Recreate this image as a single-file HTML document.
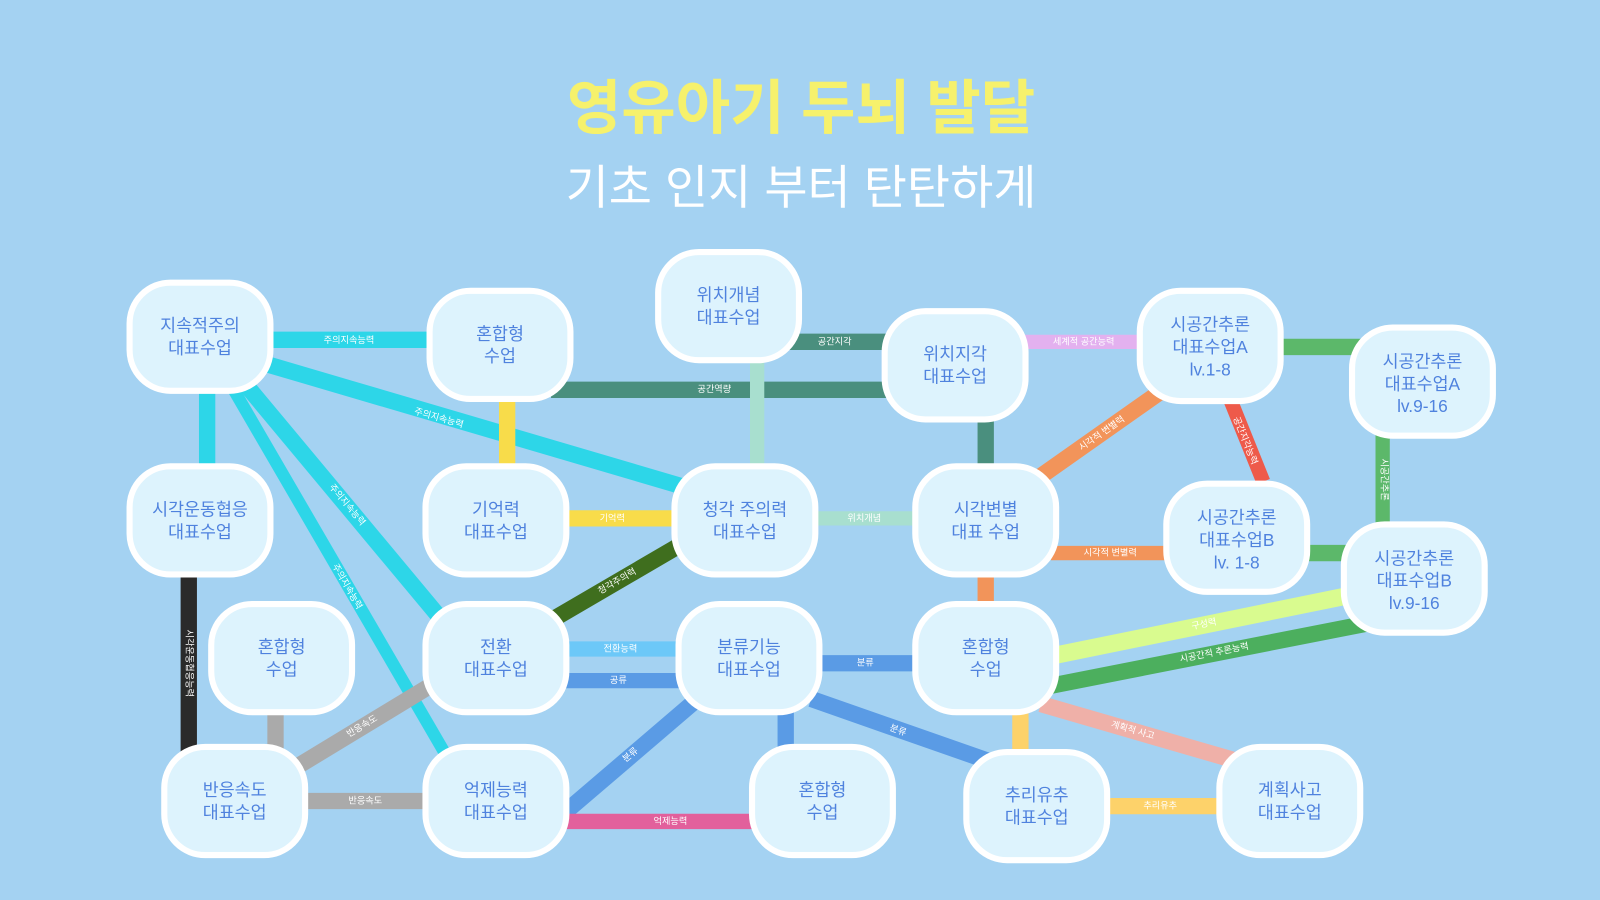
<!DOCTYPE html>
<html><head><meta charset="utf-8"><style>
html,body{margin:0;padding:0;background:#a4d2f2;}
svg{display:block;}
text{font-family:"Liberation Sans","Noto Sans CJK KR",sans-serif;}
.n rect{fill:#ddf3fd;stroke:#fff;stroke-width:6;}
.n text{fill:#4f82de;font-size:17px;text-anchor:middle;}
.l{font-size:9px;fill:#fff;text-anchor:middle;dominant-baseline:middle;}
</style></head><body>
<svg width="1600" height="900" viewBox="0 0 1568 882" preserveAspectRatio="none">
<rect width="1568" height="882" fill="#a4d2f2"/>
<text x="785" y="126" text-anchor="middle" font-size="58" font-weight="bold" fill="#f6f16c">영유아기 두뇌 발달</text>
<text x="785" y="200" text-anchor="middle" font-size="46" fill="#ffffff">기초 인지 부터 탄탄하게</text>
<g stroke-linecap="butt" fill="none">
<line x1="200" y1="333" x2="430" y2="333" stroke="#2dd6e8" stroke-width="16"/>
<line x1="255" y1="355" x2="680" y2="480" stroke="#2dd6e8" stroke-width="16"/>
<line x1="203" y1="370" x2="203" y2="460" stroke="#2dd6e8" stroke-width="16"/>
<line x1="235" y1="370" x2="435" y2="610" stroke="#2dd6e8" stroke-width="16"/>
<line x1="225" y1="375" x2="440" y2="745" stroke="#2dd6e8" stroke-width="12"/>
<line x1="497" y1="380" x2="497" y2="460" stroke="#f8dc4a" stroke-width="16"/>
<line x1="770" y1="335" x2="880" y2="335" stroke="#4a8f7e" stroke-width="16"/>
<line x1="540" y1="382" x2="880" y2="382" stroke="#4a8f7e" stroke-width="16"/>
<line x1="742" y1="350" x2="742" y2="460" stroke="#a8dfcf" stroke-width="14"/>
<line x1="1000" y1="335" x2="1120" y2="335" stroke="#e3b1ef" stroke-width="14"/>
<line x1="966" y1="400" x2="966" y2="465" stroke="#4a8f7e" stroke-width="16"/>
<line x1="1250" y1="340" x2="1335" y2="340" stroke="#5cb86a" stroke-width="16"/>
<line x1="1140" y1="382" x2="1018" y2="468" stroke="#f2945a" stroke-width="16"/>
<line x1="1205" y1="390" x2="1238" y2="472" stroke="#ee5a4a" stroke-width="14"/>
<line x1="1355" y1="420" x2="1355" y2="520" stroke="#5cb86a" stroke-width="14"/>
<line x1="550" y1="508" x2="670" y2="508" stroke="#f8dc4a" stroke-width="16"/>
<line x1="790" y1="508" x2="900" y2="508" stroke="#a8dfcf" stroke-width="14"/>
<line x1="1030" y1="542" x2="1150" y2="542" stroke="#f2945a" stroke-width="14"/>
<line x1="1275" y1="542" x2="1325" y2="542" stroke="#5cb86a" stroke-width="16"/>
<line x1="966" y1="555" x2="966" y2="600" stroke="#f2945a" stroke-width="16"/>
<line x1="665" y1="535" x2="540" y2="608" stroke="#3f6e1e" stroke-width="16"/>
<line x1="185" y1="560" x2="185" y2="740" stroke="#2a2a2a" stroke-width="16"/>
<line x1="270" y1="690" x2="270" y2="740" stroke="#aaaaaa" stroke-width="16"/>
<line x1="425" y1="670" x2="285" y2="755" stroke="#aaaaaa" stroke-width="16"/>
<line x1="290" y1="785" x2="430" y2="785" stroke="#aaaaaa" stroke-width="16"/>
<line x1="540" y1="636" x2="680" y2="636" stroke="#6cc8f8" stroke-width="15"/>
<line x1="540" y1="667" x2="680" y2="667" stroke="#5a9be5" stroke-width="15"/>
<line x1="790" y1="650" x2="910" y2="650" stroke="#5a9be5" stroke-width="16"/>
<line x1="680" y1="688" x2="555" y2="795" stroke="#5a9be5" stroke-width="16"/>
<line x1="770" y1="690" x2="770" y2="740" stroke="#5a9be5" stroke-width="16"/>
<line x1="795" y1="685" x2="975" y2="748" stroke="#5a9be5" stroke-width="16"/>
<line x1="545" y1="805" x2="750" y2="805" stroke="#e2609c" stroke-width="15"/>
<line x1="1030" y1="643" x2="1325" y2="583" stroke="#d9fb8f" stroke-width="17"/>
<line x1="1030" y1="672" x2="1345" y2="610" stroke="#4caf5e" stroke-width="16"/>
<line x1="1020" y1="690" x2="1220" y2="748" stroke="#efb0a8" stroke-width="16"/>
<line x1="1000" y1="690" x2="1000" y2="740" stroke="#fdd26a" stroke-width="16"/>
<line x1="1075" y1="790" x2="1205" y2="790" stroke="#fdd26a" stroke-width="16"/>
</g>
<g>
<text class="l" x="342" y="334">주의지속능력</text>
<text class="l" x="430" y="410" transform="rotate(16 430 410)">주의지속능력</text>
<text class="l" x="340" y="495" transform="rotate(50 340 495)">주의지속능력</text>
<text class="l" x="340" y="575" transform="rotate(60 340 575)">주의지속능력</text>
<text class="l" x="818" y="335">공간지각</text>
<text class="l" x="700" y="382">공간역량</text>
<text class="l" x="1062" y="335" fill="#8a55a5">세계적 공간능력</text>
<text class="l" x="1080" y="425" transform="rotate(-35 1080 425)">시각적 변별력</text>
<text class="l" x="1220" y="432" transform="rotate(68 1220 432)">공간지각능력</text>
<text class="l" x="1356" y="470" transform="rotate(90 1356 470)">시공간추론</text>
<text class="l" x="600" y="508" fill="#8a7a20">기억력</text>
<text class="l" x="847" y="508" fill="#5a8f80">위치개념</text>
<text class="l" x="1088" y="542">시각적 변별력</text>
<text class="l" x="605" y="570" transform="rotate(-30 605 570)">청각주의력</text>
<text class="l" x="185" y="650" transform="rotate(90 185 650)">시각운동협응능력</text>
<text class="l" x="355" y="712" transform="rotate(-31 355 712)">반응속도</text>
<text class="l" x="358" y="785">반응속도</text>
<text class="l" x="608" y="636">전환능력</text>
<text class="l" x="606" y="667">공류</text>
<text class="l" x="848" y="650">분류</text>
<text class="l" x="618" y="740" transform="rotate(-40 618 740)">분류</text>
<text class="l" x="880" y="716" transform="rotate(20 880 716)">분류</text>
<text class="l" x="657" y="805">억제능력</text>
<text class="l" x="1180" y="612" transform="rotate(-11 1180 612)" fill="#6a8a30">구성력</text>
<text class="l" x="1190" y="640" transform="rotate(-11 1190 640)" fill="#d8f5a0">시공간적 추론능력</text>
<text class="l" x="1110" y="716" transform="rotate(16 1110 716)">계획적 사고</text>
<text class="l" x="1137" y="790" fill="#9a7a30">추리유추</text>
</g>
<g class="n">
<rect x="127" y="277" width="138" height="106" rx="40"/><text x="196" y="325">지속적주의</text><text x="196" y="347">대표수업</text>
<rect x="421" y="285" width="138" height="106" rx="40"/><text x="490" y="333">혼합형</text><text x="490" y="355">수업</text>
<rect x="645" y="247" width="138" height="106" rx="40"/><text x="714" y="295">위치개념</text><text x="714" y="317">대표수업</text>
<rect x="867" y="305" width="138" height="106" rx="40"/><text x="936" y="353">위치지각</text><text x="936" y="375">대표수업</text>
<rect x="1117" y="285" width="138" height="108" rx="40"/><text x="1186" y="324">시공간추론</text><text x="1186" y="346">대표수업A</text><text x="1186" y="368">lv.1-8</text>
<rect x="1325" y="321" width="138" height="106" rx="40"/><text x="1394" y="360">시공간추론</text><text x="1394" y="382">대표수업A</text><text x="1394" y="404">lv.9-16</text>
<rect x="127" y="457" width="138" height="106" rx="40"/><text x="196" y="505">시각운동협응</text><text x="196" y="527">대표수업</text>
<rect x="417" y="457" width="138" height="106" rx="40"/><text x="486" y="505">기억력</text><text x="486" y="527">대표수업</text>
<rect x="661" y="457" width="138" height="106" rx="40"/><text x="730" y="505">청각 주의력</text><text x="730" y="527">대표수업</text>
<rect x="897" y="457" width="138" height="106" rx="40"/><text x="966" y="505">시각변별</text><text x="966" y="527">대표 수업</text>
<rect x="1143" y="474" width="138" height="106" rx="40"/><text x="1212" y="513">시공간추론</text><text x="1212" y="535">대표수업B</text><text x="1212" y="557">lv. 1-8</text>
<rect x="1317" y="514" width="138" height="106" rx="40"/><text x="1386" y="553">시공간추론</text><text x="1386" y="575">대표수업B</text><text x="1386" y="597">lv.9-16</text>
<rect x="207" y="592" width="138" height="106" rx="40"/><text x="276" y="640">혼합형</text><text x="276" y="662">수업</text>
<rect x="417" y="592" width="138" height="106" rx="40"/><text x="486" y="640">전환</text><text x="486" y="662">대표수업</text>
<rect x="665" y="592" width="138" height="106" rx="40"/><text x="734" y="640">분류기능</text><text x="734" y="662">대표수업</text>
<rect x="897" y="592" width="138" height="106" rx="40"/><text x="966" y="640">혼합형</text><text x="966" y="662">수업</text>
<rect x="161" y="732" width="138" height="106" rx="40"/><text x="230" y="780">반응속도</text><text x="230" y="802">대표수업</text>
<rect x="417" y="732" width="138" height="106" rx="40"/><text x="486" y="780">억제능력</text><text x="486" y="802">대표수업</text>
<rect x="737" y="732" width="138" height="106" rx="40"/><text x="806" y="780">혼합형</text><text x="806" y="802">수업</text>
<rect x="947" y="737" width="138" height="106" rx="40"/><text x="1016" y="785">추리유추</text><text x="1016" y="807">대표수업</text>
<rect x="1195" y="732" width="138" height="106" rx="40"/><text x="1264" y="780">계획사고</text><text x="1264" y="802">대표수업</text>
</g>
</svg>
</body></html>
